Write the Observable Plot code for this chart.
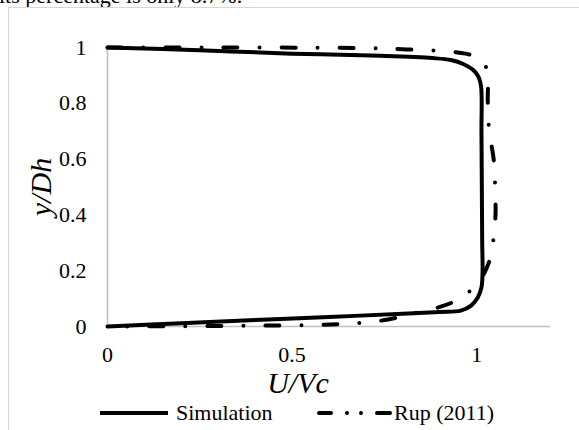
<!DOCTYPE html>
<html><head><meta charset="utf-8">
<script src="https://cdn.jsdelivr.net/npm/d3@7"></script>
<script src="https://cdn.jsdelivr.net/npm/@observablehq/plot@0.6"></script>
<style>
html,body{margin:0;padding:0;background:#fff;}
#page{position:relative;width:579px;height:430px;overflow:hidden;font-family:"Liberation Serif","Times New Roman",serif;}
#frame{position:absolute;left:8px;top:7px;width:620px;height:520px;border-left:1.5px solid #d6d6d6;border-top:1.5px solid #d6d6d6;}
#topline{position:absolute;left:-1px;top:-17px;font-size:22px;white-space:nowrap;color:#000;}
#chart{position:absolute;left:0;top:0;}
#legend{position:absolute;left:0;top:398px;width:579px;height:32px;}
</style></head>
<body><div id="page"><div id="topline">its percentage is only 8.7%.</div><div id="frame"></div><div id="chart"></div><div id="legend"></div></div>
<script>
// Series names and axis titles
const seriesNames = ["Simulation", "Rup (2011)"];
const xTitle = "U/Vc";
const yTitle = "y/Dh";
const xTicks = [0, 0.5, 1];
const yTicks = [0, 0.2, 0.4, 0.6, 0.8, 1];

// Simulation (solid)
const simX = [0, 0.25, 0.5, 0.74, 0.88, 0.93, 0.965, 0.99, 1.005, 1.012, 1.013, 1.014, 1.015, 1.016, 1.013, 1.003, 0.985, 0.957, 0.9, 0.8, 0.6, 0.4, 0.2, 0];
const simY = [1.0, 0.99, 0.978, 0.97, 0.962, 0.955, 0.94, 0.92, 0.895, 0.86, 0.7, 0.5, 0.3, 0.2, 0.14, 0.104, 0.075, 0.057, 0.052, 0.046, 0.034, 0.023, 0.012, 0];

// Rup (2011) (dash-dot)
const rupX = [0, 0.3, 0.6, 0.74, 0.81, 0.89, 0.97, 1.0, 1.02, 1.03, 1.03, 1.034, 1.046, 1.05, 1.051, 1.046, 1.038, 1.02, 1.0, 0.97, 0.94, 0.89, 0.82, 0.76, 0.65, 0.4, 0];
const rupY = [1.0, 1.0, 0.999, 0.997, 0.993, 0.989, 0.978, 0.966, 0.945, 0.9, 0.81, 0.7, 0.6, 0.5, 0.4, 0.32, 0.25, 0.19, 0.15, 0.115, 0.09, 0.066, 0.045, 0.025, 0.01, 0.003, 0];

const sim = simX.map((x, i) => ({x, y: simY[i]}));
const rup = rupX.map((x, i) => ({x, y: rupY[i]}));

const rupDash = "14,22,0,22";

const chart = Plot.plot({
  width: 579,
  height: 398,
  marginLeft: 107,
  marginRight: 29,
  marginTop: 47,
  marginBottom: 72,
  style: {fontFamily: "'Liberation Serif', 'Times New Roman', serif", fontSize: "22px", background: "transparent", color: "#000", overflow: "visible"},
  x: {domain: [0, 1.2], ticks: xTicks, tickSize: 0, tickPadding: 20, tickFormat: d => String(d), label: null},
  y: {domain: [0, 1], ticks: yTicks, tickSize: 0, tickPadding: 21, tickFormat: d => String(d), label: null},
  marks: [
    Plot.ruleY([0], {stroke: "#bfbfbf", strokeWidth: 1.5}),
    Plot.ruleX([0], {stroke: "#bfbfbf", strokeWidth: 1.5}),
    Plot.line(rup, {x: "x", y: "y", stroke: "#000", strokeWidth: 4, strokeDasharray: rupDash, strokeLinecap: "round", curve: "catmull-rom"}),
    Plot.line(sim, {x: "x", y: "y", stroke: "#000", strokeWidth: 4, curve: "catmull-rom"}),
    Plot.text([yTitle], {frameAnchor: "left", textAnchor: "middle", lineAnchor: "middle", rotate: -90, dx: -66, fontSize: 30, fontStyle: "italic", fill: "#000"}),
    Plot.text([xTitle], {frameAnchor: "bottom", textAnchor: "middle", lineAnchor: "middle", dx: -31, dy: 57, fontSize: 30, fontStyle: "italic", fill: "#000"})
  ]
});
document.getElementById("chart").appendChild(chart);

// Legend below the chart
const lg = d3.select("#legend").append("svg").attr("width", 579).attr("height", 32)
  .style("font-family", "'Liberation Serif', 'Times New Roman', serif").style("font-size", "22px");
const ly = 15;
lg.append("line").attr("x1", 100).attr("x2", 168).attr("y1", ly).attr("y2", ly)
  .attr("stroke", "#000").attr("stroke-width", 4);
lg.append("text").attr("x", 176).attr("y", ly).attr("dy", "0.33em").text(seriesNames[0]);
lg.append("line").attr("x1", 319).attr("x2", 390).attr("y1", ly).attr("y2", ly)
  .attr("stroke", "#000").attr("stroke-width", 4).attr("stroke-linecap", "round")
  .attr("stroke-dasharray", "12,16,0,14,0,16,13");
lg.append("text").attr("x", 394).attr("y", ly).attr("dy", "0.33em").text(seriesNames[1]);
</script>
</body></html>
